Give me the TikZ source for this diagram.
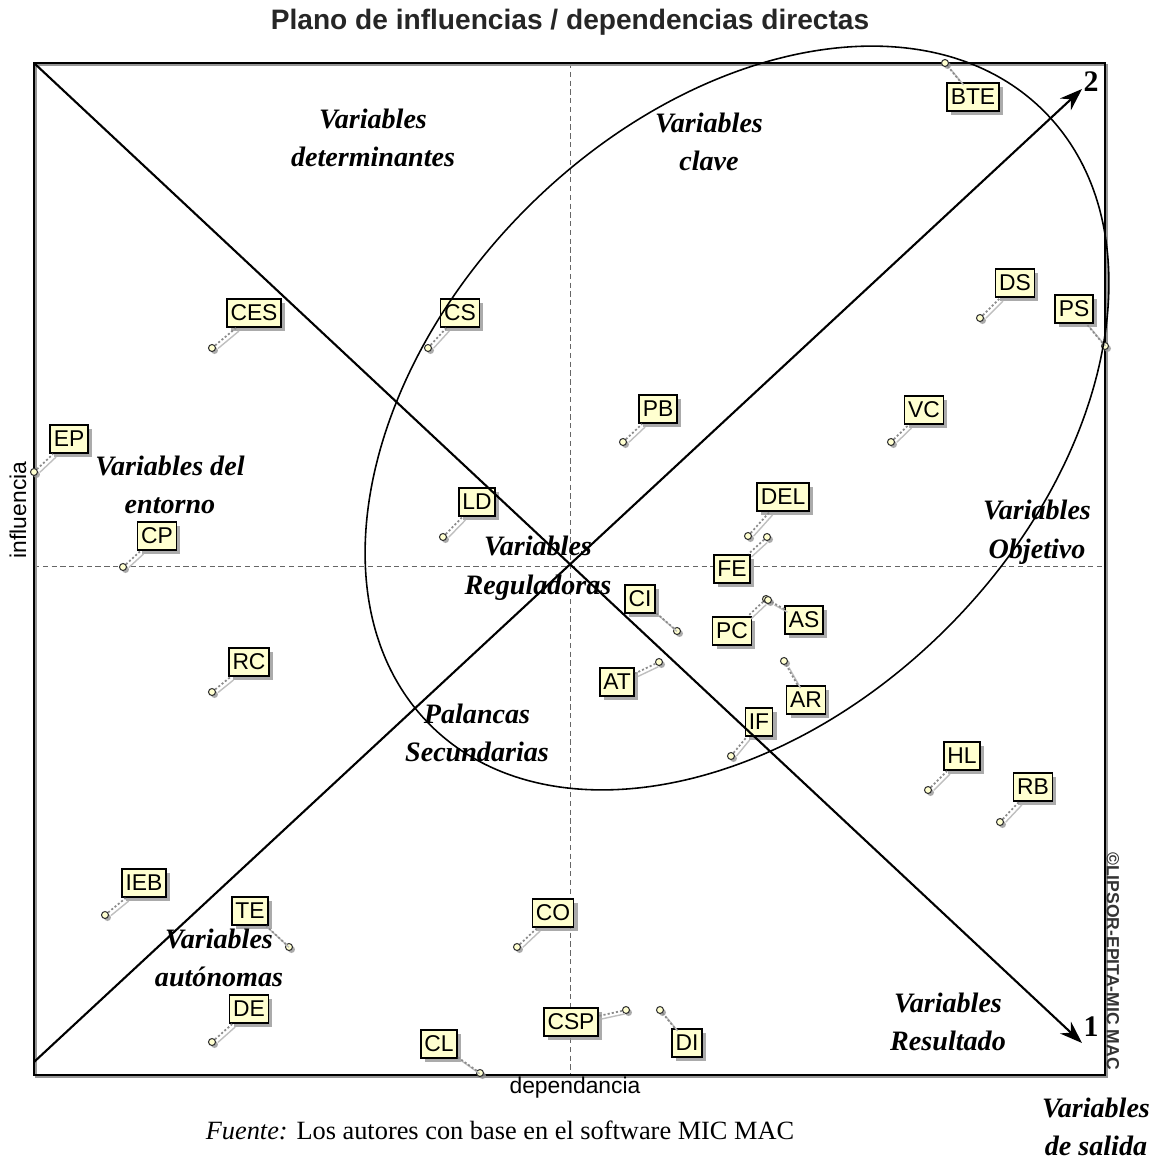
\documentclass[tikz,border=0pt]{standalone}
\usepackage{fontspec}
\setmainfont{Liberation Serif}
\setsansfont{Liberation Sans}
\usetikzlibrary{arrows.meta,shadows}

\begin{document}
\begin{tikzpicture}[x=0.02cm, y=-0.02cm, thick]
	\definecolor{note}{RGB}{255, 255, 208};
	\definecolor{shadowgray}{RGB}{150, 150, 150};
	\tikzset{
		varbox/.style={draw=black, line width=0.9pt, fill=note, inner xsep=2pt, inner ysep=0pt,
			minimum height=0.57cm, font=\sffamily\fontsize{13}{13}\selectfont,
			drop shadow={shadow xshift=0.08cm, shadow yshift=-0.08cm, fill=shadowgray, opacity=0.8}},
		varpoint/.style={circle, draw=black!80, line width=0.6pt, fill=note, inner sep=0pt, minimum size=0.14cm,
			drop shadow={shadow xshift=0.05cm, shadow yshift=-0.05cm, fill=shadowgray, opacity=0.8}},
		leader/.style={black!45, line width=1pt, dash pattern=on 1.2pt off 1.2pt,
			preaction={draw=black!25, transform canvas={shift={(0.06cm,-0.06cm)}}}},
		axisline/.style={black!60, line width=0.5pt, dash pattern=on 3pt off 2pt},
		diag/.style={line width=1.2pt, -{Stealth[length=0.45cm, width=0.32cm]}},
		zone/.style={font=\fontsize{16}{22}\selectfont\bfseries\itshape, align=center},
		num/.style={font=\fontsize{17}{17}\selectfont\bfseries}
	}

% \drawvar#name#x#y#px#py
\def\drawvar#1#2#3#4#5{
	\node[varpoint] (p#1) at (#4, #5) {};
	\node[varbox] (#1) at (#2, #3) {#1};
	\draw[leader] (p#1) -- (#1);
}

	\useasboundingbox (0,0) rectangle (1159,1160);

	% title and axes
	\node[font=\sffamily\bfseries\fontsize{16}{16}\selectfont, text=black!85] (title) at (570,22) {Plano de influencias / dependencias directas};
	\draw[axisline] (570,63) -- (570,1075);
	\draw[axisline] (34,566) -- (1105,566);
	\draw[shadowgray, line width=1.1pt] (36,65) rectangle (1107,1077);
	\draw[line width=1.1pt] (34,63) rectangle (1105,1075);
	\node[font=\sffamily\fontsize{13}{13}\selectfont, rotate=90] (infl) at (18,510) {influencia};
	\node[font=\sffamily\fontsize{13}{13}\selectfont] (dep) at (575,1088) {dependancia};
	\node[font=\sffamily\bfseries\fontsize{10}{10}\selectfont, rotate=-90, text=black!80] (lipsor) at (1113,961) {\textcopyright LIPSOR-EPITA-MIC MAC};

	% variables
	\drawvar{BTE}{973}{97}{945}{63}
	\drawvar{DS}{1015}{283}{980}{318}
	\drawvar{PS}{1074}{309}{1105}{346}
	\drawvar{CES}{254}{313}{212}{348}
	\drawvar{CS}{460}{313}{428}{348}
	\drawvar{PB}{658}{409}{623}{442}
	\drawvar{VC}{924}{410}{891}{442}
	\drawvar{EP}{69}{439}{34}{472}
	\drawvar{LD}{477}{502}{443}{537}
	\drawvar{DEL}{783}{497}{748}{536}
	\drawvar{FE}{732}{569}{767}{537}
	\drawvar{CP}{157}{536}{123}{567}
	\drawvar{CI}{640}{599}{677}{631}
	\drawvar{PC}{732}{631}{766}{599}
	\drawvar{AS}{804}{620}{768}{600}
	\drawvar{AT}{617}{682}{659}{662}
	\drawvar{AR}{806}{700}{784}{661}
	\drawvar{IF}{759}{722}{731}{756}
	\drawvar{RC}{249}{662}{212}{692}
	\drawvar{HL}{962}{756}{928}{790}
	\drawvar{RB}{1033}{787}{1000}{822}
	\drawvar{IEB}{144}{883}{105}{915}
	\drawvar{TE}{250}{911}{289}{947}
	\drawvar{CO}{553}{913}{517}{947}
	\drawvar{DE}{249}{1009}{212}{1042}
	\drawvar{CSP}{571}{1022}{626}{1010}
	\drawvar{DI}{687}{1043}{660}{1010}
	\drawvar{CL}{439}{1044}{480}{1073}

	% diagonals and ellipse
	\coordinate (tl) at (34,63);
	\coordinate (bl) at (34,1062);
	\coordinate (tip1) at (1082,1043);
	\coordinate (tip2) at (1082,89);
	\draw[diag] (tl) -- (tip1);
	\draw[diag] (bl) -- (tip2);
	\node[num] (n1) at (1091,1027) {1};
	\node[num] (n2) at (1091,82) {2};
	\draw[line width=0.9pt, rotate around={45:(737,418)}] (737,418) ellipse (434 and 297);

	% zones
	\node[zone] (zdet) at (373,138) {Variables\\determinantes};
	\node[zone] (zclave) at (709,142) {Variables\\clave};
	\node[zone] (zent) at (170,485) {Variables del\\entorno};
	\node[zone] (zreg) at (538,568) {Variables\\Reguladoras};
	\node[zone] (zobj) at (1037,532) {Variables\\Objetivo};
	\node[zone] (zpal) at (477,733) {Palancas\\Secundarias};
	\node[zone] (zaut) at (219,958) {Variables\\autónomas};
	\node[zone] (zres) at (948,1022) {Variables\\Resultado};
	\node[zone, inner sep=1pt] (zsal) at (1096,1127) {Variables\\de salida};
	\node[font=\fontsize{15}{15}\selectfont] (src) at (500,1130) {\textit{Fuente:} Los autores con base en el software MIC MAC};
\end{tikzpicture}
\end{document}
